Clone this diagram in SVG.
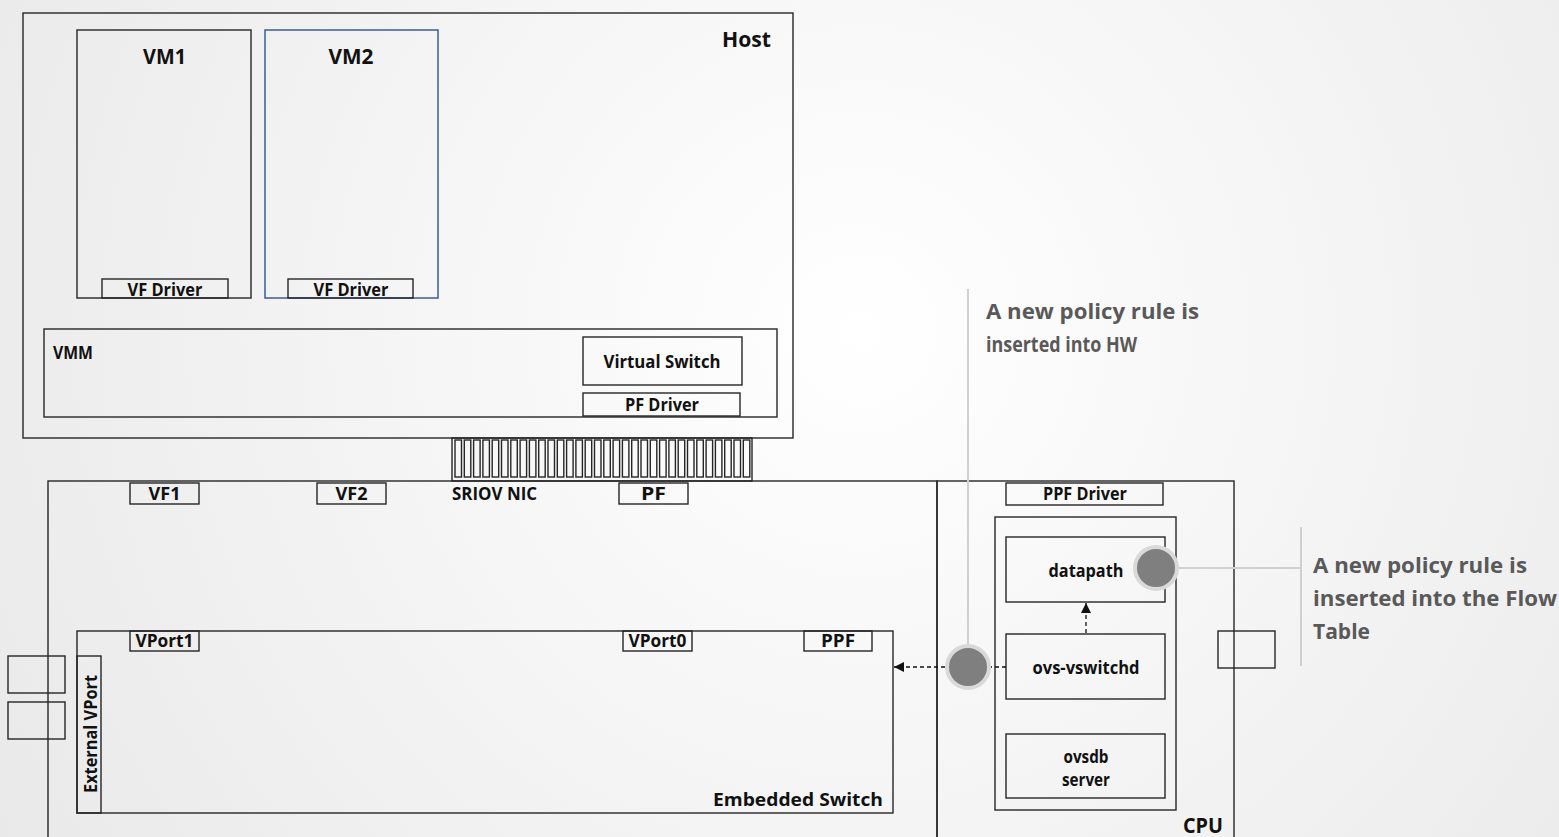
<svg xmlns="http://www.w3.org/2000/svg" width="1559" height="837" viewBox="0 0 1559 837">
  <defs>
    <radialGradient id="bg" gradientUnits="userSpaceOnUse" cx="860" cy="330" r="1000">
      <stop offset="0" stop-color="#ffffff"/>
      <stop offset="1" stop-color="#e9e9e9"/>
    </radialGradient>
    <marker id="arrow" viewBox="0 0 10 10" refX="10" refY="5" markerWidth="10" markerHeight="10" markerUnits="userSpaceOnUse" orient="auto">
      <path d="M0,0 L10,5 L0,10 Z" fill="#111"/>
    </marker>
  </defs>
  <style>
    .box { fill: none; stroke: #262626; stroke-width: 1.4; }
    .blue { fill: none; stroke: #2f528f; stroke-width: 1.4; }
    .lbl { font-family: "Open Sans", "Liberation Sans", sans-serif; font-weight: 700; fill: #111; font-size: 17px; }
    .big { font-size: 21px; }
    .note { font-family: "Open Sans", "Liberation Sans", sans-serif; font-weight: 700; fill: #595959; font-size: 21px; }
    .callout { stroke: #d0d0d0; stroke-width: 2; fill: none; }
    .dash { stroke: #111; stroke-width: 1.3; stroke-dasharray: 4 3; fill: none; }
    .ring { fill: #7f7f7f; stroke: #d9d9d9; stroke-width: 4; }
  </style>

  <rect width="1559" height="837" fill="url(#bg)"/>

  <!-- Host -->
  <g id="host">
    <rect class="box" x="23" y="13" width="770" height="425"/>
    <text class="lbl big" x="771" y="47" text-anchor="end" textLength="49" lengthAdjust="spacingAndGlyphs">Host</text>
  </g>

  <g id="vm1">
    <rect class="box" x="77" y="30" width="174" height="268"/>
    <text class="lbl big" x="164.5" y="64" text-anchor="middle" textLength="43" lengthAdjust="spacingAndGlyphs">VM1</text>
    <rect class="box" x="102" y="279" width="126" height="19"/>
    <text class="lbl" x="165" y="296" text-anchor="middle" textLength="75" lengthAdjust="spacingAndGlyphs">VF Driver</text>
  </g>

  <g id="vm2">
    <rect class="blue" x="265" y="30" width="173" height="268"/>
    <text class="lbl big" x="351" y="64" text-anchor="middle" textLength="45" lengthAdjust="spacingAndGlyphs">VM2</text>
    <rect class="box" x="288" y="279" width="125" height="19"/>
    <text class="lbl" x="351" y="296" text-anchor="middle" textLength="75" lengthAdjust="spacingAndGlyphs">VF Driver</text>
  </g>

  <g id="vmm">
    <rect class="box" x="44" y="329" width="733" height="88"/>
    <text class="lbl" x="53" y="359" textLength="40" lengthAdjust="spacingAndGlyphs">VMM</text>
  </g>

  <g id="virtual-switch">
    <rect class="box" x="583" y="337" width="159" height="48"/>
    <text class="lbl" x="662" y="368" text-anchor="middle" textLength="117" lengthAdjust="spacingAndGlyphs">Virtual Switch</text>
  </g>

  <g id="pf-driver">
    <rect class="box" x="583" y="393" width="157" height="23"/>
    <text class="lbl" x="662" y="411" text-anchor="middle" textLength="74" lengthAdjust="spacingAndGlyphs">PF Driver</text>
  </g>

  <!-- PCIe edge connector -->
  <g id="pcie-connector">
    <rect class="box" x="452" y="438" width="300" height="43"/>
    <g class="box">
      <rect x="455" y="440" width="6.5" height="37"/>
      <rect x="464.3" y="440" width="6.5" height="37"/>
      <rect x="473.6" y="440" width="6.5" height="37"/>
      <rect x="482.9" y="440" width="6.5" height="37"/>
      <rect x="492.2" y="440" width="6.5" height="37"/>
      <rect x="501.5" y="440" width="6.5" height="37"/>
      <rect x="510.8" y="440" width="6.5" height="37"/>
      <rect x="520.1" y="440" width="6.5" height="37"/>
      <rect x="529.4" y="440" width="6.5" height="37"/>
      <rect x="538.7" y="440" width="6.5" height="37"/>
      <rect x="548" y="440" width="6.5" height="37"/>
      <rect x="557.3" y="440" width="6.5" height="37"/>
      <rect x="566.6" y="440" width="6.5" height="37"/>
      <rect x="575.9" y="440" width="6.5" height="37"/>
      <rect x="585.2" y="440" width="6.5" height="37"/>
      <rect x="594.5" y="440" width="6.5" height="37"/>
      <rect x="603.8" y="440" width="6.5" height="37"/>
      <rect x="613.1" y="440" width="6.5" height="37"/>
      <rect x="622.4" y="440" width="6.5" height="37"/>
      <rect x="631.7" y="440" width="6.5" height="37"/>
      <rect x="641" y="440" width="6.5" height="37"/>
      <rect x="650.3" y="440" width="6.5" height="37"/>
      <rect x="659.6" y="440" width="6.5" height="37"/>
      <rect x="668.9" y="440" width="6.5" height="37"/>
      <rect x="678.2" y="440" width="6.5" height="37"/>
      <rect x="687.5" y="440" width="6.5" height="37"/>
      <rect x="696.8" y="440" width="6.5" height="37"/>
      <rect x="706.1" y="440" width="6.5" height="37"/>
      <rect x="715.4" y="440" width="6.5" height="37"/>
      <rect x="724.7" y="440" width="6.5" height="37"/>
      <rect x="734" y="440" width="6.5" height="37"/>
      <rect x="743.3" y="440" width="6.5" height="37"/>
    </g>
  </g>

  <!-- SR-IOV NIC -->
  <g id="sriov-nic">
    <rect class="box" x="48" y="481" width="889" height="370"/>
    <text class="lbl" x="452" y="500" textLength="85" lengthAdjust="spacingAndGlyphs">SRIOV NIC</text>
  </g>

  <g id="vf1">
    <rect class="box" x="130" y="483" width="69" height="21"/>
    <text class="lbl" x="164.5" y="500" text-anchor="middle" textLength="32" lengthAdjust="spacingAndGlyphs">VF1</text>
  </g>
  <g id="vf2">
    <rect class="box" x="317" y="483" width="69" height="21"/>
    <text class="lbl" x="351.5" y="500" text-anchor="middle" textLength="32" lengthAdjust="spacingAndGlyphs">VF2</text>
  </g>
  <g id="pf">
    <rect class="box" x="619" y="483" width="69" height="21"/>
    <text class="lbl" x="653.5" y="500" text-anchor="middle" textLength="25" lengthAdjust="spacingAndGlyphs">PF</text>
  </g>

  <g id="embedded-switch">
    <rect class="box" x="77" y="631" width="816" height="182"/>
    <text class="lbl" x="883" y="806" text-anchor="end" font-size="21" textLength="170" lengthAdjust="spacingAndGlyphs">Embedded Switch</text>
  </g>

  <g id="vport1">
    <rect class="box" x="130" y="631" width="69" height="20"/>
    <text class="lbl" x="164.5" y="647" text-anchor="middle" font-size="16" textLength="58" lengthAdjust="spacingAndGlyphs">VPort1</text>
  </g>
  <g id="vport0">
    <rect class="box" x="623" y="631" width="69" height="20"/>
    <text class="lbl" x="657.5" y="647" text-anchor="middle" font-size="16" textLength="58" lengthAdjust="spacingAndGlyphs">VPort0</text>
  </g>
  <g id="ppf">
    <rect class="box" x="804" y="631" width="68" height="20"/>
    <text class="lbl" x="838" y="647" text-anchor="middle" font-size="16" textLength="34" lengthAdjust="spacingAndGlyphs">PPF</text>
  </g>

  <g id="external-vport">
    <rect class="box" x="77" y="656" width="24" height="157"/>
    <text class="lbl" transform="translate(97 734) rotate(-90)" text-anchor="middle" font-size="16" textLength="118" lengthAdjust="spacingAndGlyphs">External VPort</text>
  </g>

  <g id="physical-port-1">
    <rect class="box" x="8" y="656" width="57" height="37"/>
  </g>
  <g id="physical-port-2">
    <rect class="box" x="8" y="702" width="57" height="37"/>
  </g>

  <!-- CPU -->
  <g id="cpu">
    <rect class="box" x="937" y="481" width="297" height="370"/>
    <text class="lbl big" x="1223" y="833" text-anchor="end" textLength="40" lengthAdjust="spacingAndGlyphs">CPU</text>
  </g>

  <g id="cpu-port">
    <rect class="box" x="1218" y="631" width="57" height="37"/>
  </g>

  <g id="ppf-driver">
    <rect class="box" x="1006" y="483" width="157" height="22"/>
    <text class="lbl" x="1085" y="500" text-anchor="middle" textLength="84" lengthAdjust="spacingAndGlyphs">PPF Driver</text>
  </g>

  <g id="ovs">
    <rect class="box" x="995" y="517" width="181" height="293"/>
  </g>

  <g id="datapath">
    <rect class="box" x="1006" y="537" width="159" height="65"/>
    <text class="lbl" x="1086" y="577" text-anchor="middle" textLength="75" lengthAdjust="spacingAndGlyphs">datapath</text>
  </g>

  <g id="ovs-vswitchd">
    <rect class="box" x="1006" y="634" width="159" height="65"/>
    <text class="lbl" x="1086" y="674" text-anchor="middle" textLength="107" lengthAdjust="spacingAndGlyphs">ovs-vswitchd</text>
  </g>

  <g id="ovsdb-server">
    <rect class="box" x="1006" y="734" width="159" height="64"/>
    <text class="lbl" x="1086" y="763" text-anchor="middle" textLength="45" lengthAdjust="spacingAndGlyphs">ovsdb</text>
    <text class="lbl" x="1086" y="786" text-anchor="middle" textLength="48" lengthAdjust="spacingAndGlyphs">server</text>
  </g>

  <!-- Connectors -->
  <g id="connectors">
    <line class="dash" x1="1086" y1="633" x2="1086" y2="603" marker-end="url(#arrow)"/>
    <line class="dash" x1="1006" y1="667" x2="990" y2="667"/>
    <line class="dash" x1="945" y1="667" x2="894" y2="667" marker-end="url(#arrow)"/>
    <line class="callout" x1="968" y1="289" x2="968" y2="645"/>
    <line class="callout" x1="1179" y1="568" x2="1301" y2="568"/>
    <line class="callout" x1="1301" y1="527" x2="1301" y2="666"/>
  </g>

  <!-- Callout markers -->
  <g id="marker-hw">
    <circle class="ring" cx="968" cy="667" r="21"/>
  </g>
  <g id="marker-flow-table">
    <circle class="ring" cx="1156" cy="568" r="21"/>
  </g>

  <g id="note-hw">
    <text class="note" x="986" y="319" textLength="213" lengthAdjust="spacingAndGlyphs">A new policy rule is</text>
    <text class="note" x="986" y="352" textLength="151" lengthAdjust="spacingAndGlyphs">inserted into HW</text>
  </g>

  <g id="note-flow-table">
    <text class="note" x="1313" y="573" textLength="214" lengthAdjust="spacingAndGlyphs">A new policy rule is</text>
    <text class="note" x="1313" y="606" textLength="244" lengthAdjust="spacingAndGlyphs">inserted into the Flow</text>
    <text class="note" x="1313" y="639" textLength="57" lengthAdjust="spacingAndGlyphs">Table</text>
  </g>
</svg>
